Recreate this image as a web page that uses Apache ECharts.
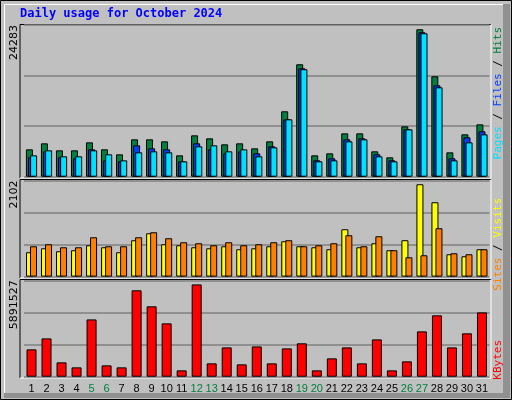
<!DOCTYPE html>
<html><head><meta charset="utf-8">
<script src="https://cdn.jsdelivr.net/npm/echarts@6/dist/echarts.min.js"></script>
<style>html,body{margin:0;padding:0;background:#c0c0c0}#c{width:512px;height:400px}</style>
</head><body><div id="c"></div>
<script>
var days = ['1','2','3','4','5','6','7','8','9','10','11','12','13','14','15','16','17','18','19','20','21','22','23','24','25','26','27','28','29','30','31'];
var weekend = ['5','6','12','13','19','20','26','27'];
var hits = [4380,5340,4220,4220,5500,4380,3580,5980,5980,5660,3420,6620,6140,5180,5340,4540,5660,10470,18000,3420,3740,6940,6940,4060,3100,8060,23600,16070,3900,6780,8380];
var files = [3100,4060,3100,2940,4380,2620,2460,5020,4540,4380,2460,5340,4380,3740,4060,3740,4860,9180,17360,2620,2940,5980,6140,3580,2620,7580,23120,14630,2940,6300,7260];
var pages = [3420,4220,3260,3260,4220,3580,2620,3900,4060,3900,2460,4860,5020,4060,4380,3260,4700,9180,17200,2460,2620,5660,5980,3260,2460,7580,22960,14310,2620,5500,6780];
var visits = [533,620,555,577,686,642,533,796,949,708,686,642,620,664,599,620,664,774,664,642,599,1037,642,730,577,796,2022,1628,489,445,599];
var sites = [664,708,642,642,861,664,664,861,971,840,752,730,686,752,686,708,752,796,664,686,730,905,664,883,577,423,467,1059,511,489,599];
var kbytes = [1670000,2340000,876000,570000,3500000,693000,570000,5280000,4300000,3260000,387000,5640000,815000,1790000,754000,1850000,815000,1730000,2040000,387000,1120000,1790000,815000,2280000,387000,937000,2770000,3750000,1790000,2650000,3930000];
var maxLabels = ['24283','2102','5891527'];
var maxVals = [24283,2102,5891527];

var chart = echarts.init(document.getElementById('c'), null, {renderer:'canvas'});
var grids = [
  {left:24, width:465.5, top:25, height:151.7},
  {left:24, width:465.5, top:180.6, height:96},
  {left:24, width:465.5, top:280.3, height:96.4}
];
var LF = 'Liberation Sans';
function xa(i, show){
  return {type:'category', data:days, gridIndex:i, boundaryGap:true,
    axisLine:{show:false}, axisTick:{show:false},
    axisLabel:{show:show, interval:0, margin:7, fontFamily:LF, fontSize:11,
      formatter:function(v){return weekend.indexOf(v)>=0?'{w|'+v+'}':'{n|'+v+'}';},
      rich:{w:{color:'#008040',fontSize:11,fontFamily:LF},n:{color:'#000',fontSize:11,fontFamily:LF}}}};
}
function ya(i){
  return {type:'value', gridIndex:i, min:0, max:maxVals[i], interval:maxVals[i]/3,
    axisLine:{show:false}, axisTick:{show:false}, axisLabel:{show:false},
    splitLine:{show:true, lineStyle:{color:'#808080', width:1.5}}};
}
var bs = {borderColor:'#000', borderWidth:1};
function bar(name, data, xi, color, w, gap){
  var s = {name:name, type:'bar', data:data, xAxisIndex:xi, yAxisIndex:xi, barWidth:w,
    itemStyle:Object.assign({color:color}, bs), animation:false, silent:true};
  if (gap!==undefined) s.barGap = gap;
  return s;
}
function frame(y1,y2){
  return [
    {type:'line', shape:{x1:20,y1:y1,x2:491,y2:y1}, style:{stroke:'#000',lineWidth:1}},
    {type:'line', shape:{x1:20,y1:y1,x2:20,y2:y2}, style:{stroke:'#000',lineWidth:1}},
    {type:'line', shape:{x1:491,y1:y1,x2:491,y2:y2}, style:{stroke:'#fff',lineWidth:1}},
    {type:'line', shape:{x1:20,y1:y2,x2:491,y2:y2}, style:{stroke:'#fff',lineWidth:1}}
  ];
}
var g = [
  {type:'rect', shape:{x:0.5,y:0.5,width:511,height:399}, style:{fill:'none',stroke:'#000',lineWidth:1}},
  {type:'rect', shape:{x:503,y:4,width:7,height:394}, style:{fill:'#909090'}},
  {type:'rect', shape:{x:4,y:393,width:506,height:5}, style:{fill:'#909090'}},
  {type:'line', shape:{x1:4,y1:4.5,x2:503,y2:4.5}, style:{stroke:'#fff',lineWidth:1}},
  {type:'line', shape:{x1:4.5,y1:4,x2:4.5,y2:393}, style:{stroke:'#fff',lineWidth:1}},
  {type:'text', left:20, top:8, style:{text:'Daily usage for October 2024', fill:'#0000ff', font:'bold 12px "DejaVu Sans Mono"'}}
].concat(frame(24.5,178)).concat(frame(179.5,278)).concat(frame(279.5,378));
var labY = [25, 180.6, 280.3];
for (var i=0;i<3;i++){
  g.push({type:'text', x:9, y:labY[i], rotation:Math.PI/2,
    style:{text:maxLabels[i], fill:'#000', font:'11px "DejaVu Sans"', align:'right', verticalAlign:'top'}});
}
g.push({type:'text', x:493, y:27, rotation:Math.PI/2,
  style:{text:'{p|Pages}{s| / }{f|Files}{s| / }{h|Hits}', align:'right', verticalAlign:'top', font:'11px "DejaVu Sans Mono"',
    rich:{p:{fill:'#00e0ff',font:'11px "DejaVu Sans Mono"'},f:{fill:'#0040ff',font:'11px "DejaVu Sans Mono"'},h:{fill:'#008040',font:'11px "DejaVu Sans Mono"'},s:{fill:'#000',font:'11px "DejaVu Sans Mono"'}}}});
g.push({type:'text', x:493, y:198, rotation:Math.PI/2,
  style:{text:'{a|Sites}{s| / }{b|Visits}', align:'right', verticalAlign:'top', font:'11px "DejaVu Sans Mono"',
    rich:{a:{fill:'#ff8000',font:'11px "DejaVu Sans Mono"'},b:{fill:'#ffff00',font:'11px "DejaVu Sans Mono"'},s:{fill:'#000',font:'11px "DejaVu Sans Mono"'}}}});
g.push({type:'text', x:493, y:340, rotation:Math.PI/2,
  style:{text:'KBytes', align:'right', verticalAlign:'top', fill:'#ff0000', font:'11px "DejaVu Sans Mono"'}});

chart.setOption({
  backgroundColor:'#c0c0c0', animation:false,
  grid:grids,
  xAxis:[xa(0,false), xa(1,false), xa(2,true)],
  yAxis:[ya(0), ya(1), ya(2)],
  series:[
    bar('Hits', hits, 0, '#008040', 7, '-70%'),
    bar('Files', files, 0, '#0040ff', 7, '-70%'),
    bar('Pages', pages, 0, '#00e0ff', 7, '-70%'),
    bar('Visits', visits, 1, '#ffff00', 7, '-43%'),
    bar('Sites', sites, 1, '#ff8000', 7, '-43%'),
    bar('KBytes', kbytes, 2, '#ff0000', 10)
  ],
  graphic:g
});
</script></body></html>
